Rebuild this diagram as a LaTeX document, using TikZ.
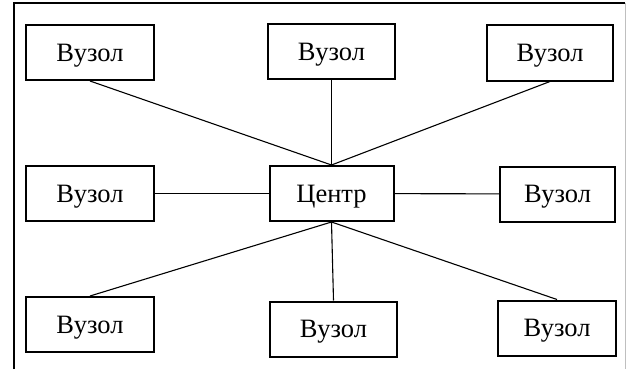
\documentclass[tikz,border=0pt]{standalone}
\usepackage{fontspec}
\setmainfont{Liberation Serif}
\begin{document}
\begin{tikzpicture}
            [x = 1pt, y = -1pt,
             vuzol/.style = {draw, line width = 2pt, inner sep = 0pt, minimum height = 55pt,
                             text depth = 0pt, font = \fontsize{26.5}{30}\selectfont},
             link/.style = {line width = 1.1pt}]
            \useasboundingbox (0,0) rectangle (628,369);
            % frame
            \draw[line width = 1.8pt] (14,369) -- (14,3) -- (625,3);
            \draw[black!25, line width = 1pt] (625,3) -- (625,369);
            % nodes
            \node[vuzol, minimum width = 124pt] (c) at (331.5,193.5) {Центр};
            \node[vuzol, minimum width = 128pt] (tl) at (90,52.5) {Вузол};
            \node[vuzol, minimum width = 127pt] (tm) at (331.5,51.5) {Вузол};
            \node[vuzol, minimum width = 126pt] (tr) at (550,53) {Вузол};
            \node[vuzol, minimum width = 128pt] (ml) at (90,193.5) {Вузол};
            \node[vuzol, minimum width = 115pt] (mr) at (557.5,194) {Вузол};
            \node[vuzol, minimum width = 128pt] (bl) at (90,324.5) {Вузол};
            \node[vuzol, minimum width = 127pt] (bm) at (333.5,329) {Вузол};
            \node[vuzol, minimum width = 118pt] (br) at (557,328) {Вузол};
            % links
            \draw[link] (tl.south) -- (c.north);
            \draw[link] (tm.south) -- (c.north);
            \draw[link] (tr.south) -- (c.north);
            \draw[link] (ml) -- (c);
            \draw[link] (c) -- (mr);
            \draw[link] (bl.north) -- (c.south);
            \draw[link] (bm.north) -- (c.south);
            \draw[link] (br.north) -- (c.south);
        \end{tikzpicture}
\end{document}
